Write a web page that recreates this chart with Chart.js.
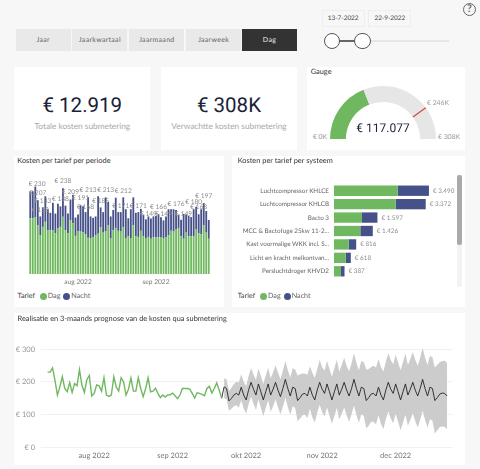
<!DOCTYPE html>
<html>
<head>
<meta charset="utf-8">
<script src="https://cdn.jsdelivr.net/npm/chart.js@4"></script>
<style>
    html, body { margin: 0; padding: 0; background: #f7f7f7; }
    #page { position: relative; width: 480px; height: 469px; overflow: hidden; font-family: Lato, sans-serif; text-rendering: geometricPrecision; }
    #page > * { position: absolute; }
    .card { background: #fff; }
    .btn { top: 28.5px; height: 22px; line-height: 22px; text-align: center; font-size: 7px; letter-spacing: 0.3px; color: #666; background: #e9e9e9; }
    .title { font-size: 7.4px; line-height: 10px; color: #333; white-space: nowrap; }
    .big { width: 136px; text-align: center; top: 92px; font-family: Roboto, sans-serif; font-size: 20.5px; line-height: 28px; color: #1a2238; }
    .sub { width: 136px; text-align: center; top: 121px; font-size: 8.3px; line-height: 10px; color: #a8a8a8; white-space: nowrap; }
    .date { top: 10px; height: 15px; line-height: 16px; width: 41px; text-align: center; font-size: 6.4px; color: #444; border: 0.5px solid #eee; }
    .small { font-size: 6.8px; line-height: 8px; color: #999; white-space: nowrap; transform: translateX(-50%); }
    .legend { font-size: 7.2px; line-height: 10px; color: #666; top: 291px; white-space: nowrap; }
    .dot { width: 7px; height: 7px; border-radius: 50%; top: 292.5px; }
    canvas { position: absolute; }
</style>
</head>
<body>
<div id="page">
    <div class="btn" style="left:15.7px;width:55px">Jaar</div>
    <div class="btn" style="left:72.3px;width:55px">Jaarkwartaal</div>
    <div class="btn" style="left:129.3px;width:55px">Jaarmaand</div>
    <div class="btn" style="left:186px;width:55px">Jaarweek</div>
    <div class="btn" style="left:242px;width:55px;background:#333;color:#eee">Dag</div>

    <div class="date" style="left:321.7px">13-7-2022</div>
    <div class="date" style="left:368.3px">22-9-2022</div>
    <div style="left:332px;top:40px;width:117px;height:1.5px;background:#e6e6e6"></div>
    <div style="left:332px;top:39.8px;width:30px;height:1.8px;background:#666"></div>
    <div style="left:323.5px;top:32.5px;width:14.5px;height:14.5px;border:1.2px solid #555;border-radius:50%;background:#fff"></div>
    <div style="left:354px;top:32.5px;width:14.5px;height:14.5px;border:1.2px solid #555;border-radius:50%;background:#fff"></div>
    <div style="left:463px;top:3px;width:11px;height:11px;border:1.8px solid #666;border-radius:50%;text-align:center;font-size:10.5px;line-height:11px;font-weight:700;color:#666">?</div>

    <div class="card" style="left:14.3px;top:66.7px;width:136px;height:83.3px"></div>
    <div class="big" style="left:14.3px">€ 12.919</div>
    <div class="sub" style="left:14.3px">Totale kosten submetering</div>

    <div class="card" style="left:161px;top:66.7px;width:136px;height:83.3px"></div>
    <div class="big" style="left:161px">€ 308K</div>
    <div class="sub" style="left:161px">Verwachtte kosten submetering</div>

    <div class="card" style="left:307.3px;top:66.7px;width:157.7px;height:83.3px"></div>
    <div class="title" style="left:310.7px;top:67px">Gauge</div>
    <canvas id="gaugeChart" width="106" height="53" style="left:329.7px;top:85.5px"></canvas>
    <div class="small" style="left:320px;top:132.5px">€ 0K</div>
    <div class="small" style="left:449px;top:132.5px">€ 308K</div>
    <div class="small" style="left:438px;top:99px">€ 246K</div>
    <div class="small" style="left:383px;top:119px;font-size:12px;line-height:18px;color:#1a2238;font-family:Roboto,sans-serif">€ 117.077</div>

    <div class="card" style="left:14px;top:156px;width:210px;height:151px"></div>
    <div class="title" style="left:17.3px;top:156px">Kosten per tarief per periode</div>
    <canvas id="periodeChart" width="200" height="120" style="left:28.5px;top:170px"></canvas>
    <div class="legend" style="left:17.5px;color:#444">Tarief</div>
    <div class="dot" style="left:39.5px;background:#70b85f"></div>
    <div class="legend" style="left:47.7px">Dag</div>
    <div class="dot" style="left:63.2px;background:#465089"></div>
    <div class="legend" style="left:71.3px">Nacht</div>

    <div class="card" style="left:232px;top:156px;width:233px;height:151px"></div>
    <div class="title" style="left:237.7px;top:156px">Kosten per tarief per systeem</div>
    <canvas id="systeemChart" width="225" height="94" style="left:232px;top:184px"></canvas>
    <div style="left:457.3px;top:175px;width:4.4px;height:112px;background:#f3f3f3;border-radius:2px"></div>
    <div style="left:457.3px;top:175px;width:4.4px;height:70px;background:#aaa;border-radius:2px"></div>
    <div class="legend" style="left:237.7px;color:#444">Tarief</div>
    <div class="dot" style="left:260.2px;background:#70b85f"></div>
    <div class="legend" style="left:268px">Dag</div>
    <div class="dot" style="left:283.5px;background:#465089"></div>
    <div class="legend" style="left:291.7px">Nacht</div>

    <div class="card" style="left:14px;top:313px;width:451px;height:152px"></div>
    <div class="title" style="left:17.5px;top:314px">Realisatie en 3-maands prognose van de kosten qua submetering</div>
    <canvas id="prognoseChart" width="450" height="130" style="left:10px;top:335px"></canvas>
</div>

<script>
// Kosten per dag, 13-7-2022 t/m 22-9-2022
const dag = [155, 155, 157, 136, 108, 131, 145, 122, 122, 122, 113, 127, 131, 159, 122, 113, 150, 141, 106, 118, 118, 116, 110, 101,
    100, 102, 108, 112, 130, 115, 118, 135, 100, 122, 128, 120, 118, 130, 100, 105, 100, 135, 105, 103, 120, 105, 100, 103,
    98, 102, 102, 102, 103, 100, 102, 108, 120, 118, 125, 128, 105, 98, 115, 105, 105, 105, 125, 113, 110, 135, 115, 98];
const nacht = [75, 75, 86, 69, 52, 54, 71, 58, 48, 76, 55, 68, 57, 79, 68, 55, 57, 79, 51, 47, 73, 72, 62, 112,
    60, 54, 52, 104, 55, 57, 95, 65, 60, 56, 84, 52, 54, 83, 80, 50, 80, 78, 65, 69, 61, 60, 52, 57,
    56, 58, 59, 64, 55, 49, 58, 72, 60, 62, 53, 37, 46, 69, 50, 57, 53, 75, 62, 53, 70, 62, 60, 52];
const realisatie = [230, 230, 243, 205, 160, 185, 216, 180, 170, 198, 168, 195, 188, 238, 190, 168, 207, 220, 157, 165, 191, 188, 172, 213,
    160, 156, 160, 216, 185, 172, 213, 200, 160, 178, 212, 172, 172, 213, 180, 155, 180, 213, 170, 172, 181, 165, 152, 160,
    154, 160, 161, 166, 158, 149, 160, 180, 180, 180, 178, 165, 151, 167, 165, 162, 158, 180, 187, 166, 180, 197, 175, 150];

// Welke staven een label tonen (de rest valt weg door overlap)
const labelDagen = [0, 3, 4, 5, 12, 13, 16, 20, 22, 23, 28, 30, 36, 37, 43, 47, 51, 53, 58, 61, 65, 67, 69];
const labelWaarden = [230, 207, 158, 183, 188, 238, 209, 191, 168, 213, 185, 213, 171, 212, 171, 149, 166, 149, 176, 149, 180, 168, 197];

// Prognose 23-9-2022 t/m 22-12-2022
const prognose = [185, 180, 142, 150, 160, 165, 160, 184, 160, 145, 175, 199, 178, 160, 194, 170, 145, 170, 194, 160, 178, 199, 175, 155,
    180, 208, 180, 157, 184, 180, 143, 152, 163, 165, 157, 184, 160, 145, 175, 199, 178, 165, 194, 170, 145, 170, 194, 160,
    178, 199, 175, 157, 180, 208, 180, 157, 184, 180, 143, 152, 163, 165, 157, 184, 160, 145, 175, 199, 178, 165, 194, 170,
    145, 170, 194, 160, 178, 199, 175, 157, 180, 208, 180, 157, 184, 180, 143, 152, 163, 166, 165, 157];
const bovengrens = [211, 208, 172, 182, 194, 201, 198, 224, 201, 187, 218, 243, 223, 206, 241, 218, 194, 220, 244, 211, 230, 251, 228, 209,
    235, 264, 237, 214, 242, 238, 220, 224, 226, 226, 222, 247, 228, 212, 240, 268, 245, 235, 264, 240, 216, 243, 268, 232,
    252, 274, 250, 233, 257, 288, 258, 236, 264, 260, 238, 240, 246, 250, 244, 270, 246, 232, 262, 288, 267, 254, 283, 260,
    236, 261, 287, 252, 270, 292, 268, 250, 274, 304, 274, 252, 280, 276, 244, 253, 260, 264, 265, 258];
const ondergrens = [150, 148, 112, 118, 126, 129, 122, 144, 119, 103, 132, 155, 133, 114, 147, 122, 96, 120, 144, 109, 126, 147, 122, 101,
    125, 152, 123, 100, 126, 120, 80, 88, 98, 100, 90, 118, 92, 76, 106, 130, 108, 94, 122, 97, 72, 96, 120, 86,
    102, 122, 97, 78, 101, 128, 99, 75, 101, 96, 58, 66, 78, 78, 70, 98, 72, 56, 86, 110, 88, 74, 103, 78,
    52, 76, 100, 66, 84, 104, 80, 61, 84, 112, 84, 60, 86, 82, 42, 52, 62, 64, 62, 55];

// Maand-labels op de x-as (index = dag vanaf 13 juli)
const periodeTickDagen = [19, 50];
const periodeTickLabels = ["aug 2022", "sep 2022"];
const prognoseTickDagen = [19, 51, 81, 112, 142];
const prognoseTickLabels = ["aug 2022", "sep 2022", "okt 2022", "nov 2022", "dec 2022"];
const prognoseYTicks = [0, 100, 200, 300];

// Kosten per systeem
const systemen = ["Luchtcompressor KHLCE", "Luchtcompressor KHLCB", "Bacto 3", "MCC & Bactofuge 25kw 11-2...",
    "Kast voormalige WKK incl. S...", "Licht en kracht melkontvan...", "Persluchtdroger KHVD2"];
const systeemDag = [2340, 2267, 1029, 968, 539, 429, 257];
const systeemNacht = [1150, 1105, 568, 458, 277, 189, 130];
const systeemTotaal = [3490, 3372, 1597, 1426, 816, 618, 387];

// Gauge
const gaugeWaarde = 117077;
const gaugeRest = 190923;
const gaugeDoel = 246000;
const gaugeMax = 308000;

const GREEN = "#70b85f";
const BLUE = "#465089";
const FONT = "Lato, sans-serif";

Chart.defaults.animation = false;
Chart.defaults.responsive = false;
Chart.defaults.font.family = FONT;
Chart.defaults.plugins.legend.display = false;
Chart.defaults.plugins.tooltip.enabled = false;

// Zelfde tekstweergave in de canvassen als in de html
Chart.register({
    id: "preciseText",
    beforeInit(chart) { chart.ctx.textRendering = "geometricPrecision"; },
    beforeDraw(chart) { chart.ctx.textRendering = "geometricPrecision"; }
});

function euro(v) {
    return "€ " + String(v).replace(/\B(?=(\d{3})+$)/g, ".");
}

// Tick-labels mogen de plotruimte niet verkleinen
function noPadding(axis) {
    axis.paddingTop = 0;
    axis.paddingBottom = 0;
    axis.paddingLeft = 0;
    axis.paddingRight = 0;
}

function graphPeriode() {
    const ctx = document.getElementById("periodeChart").getContext("2d");
    new Chart(ctx, {
        type: "bar",
        data: {
            labels: dag.map((_, i) => i),
            datasets: [
                { label: "Dag", data: dag, backgroundColor: GREEN, barPercentage: 0.72, categoryPercentage: 1 },
                { label: "Nacht", data: nacht, backgroundColor: BLUE, barPercentage: 0.72, categoryPercentage: 1 }
            ]
        },
        options: {
            layout: { padding: { right: 19 } },
            scales: {
                x: {
                    stacked: true,
                    grid: { display: false, drawTicks: false },
                    border: { display: false },
                    afterFit: axis => { noPadding(axis); axis.height = 16; },
                    ticks: {
                        autoSkip: false,
                        maxRotation: 0,
                        padding: 4,
                        color: "#777",
                        font: { size: 6.6 },
                        callback: value => {
                            const pos = periodeTickDagen.indexOf(value);
                            return pos >= 0 ? periodeTickLabels[pos] : "";
                        }
                    }
                },
                y: { stacked: true, display: false, min: 0, max: 289 }
            }
        },
        plugins: [{
            id: "barLabels",
            afterDatasetsDraw(chart) {
                const c = chart.ctx;
                c.save();
                c.font = "6.6px " + FONT;
                c.fillStyle = "#8c8c8c";
                c.textAlign = "center";
                c.textBaseline = "middle";
                labelDagen.forEach((d, i) => {
                    const x = Math.max(chart.scales.x.getPixelForValue(d), chart.chartArea.left + 8);
                    c.fillText(euro(labelWaarden[i]), x, chart.scales.y.getPixelForValue(labelWaarden[i]) - 7);
                });
                c.restore();
            }
        }]
    });
}

function graphSysteem() {
    const ctx = document.getElementById("systeemChart").getContext("2d");
    new Chart(ctx, {
        type: "bar",
        data: {
            labels: systemen,
            datasets: [
                { label: "Dag", data: systeemDag, backgroundColor: GREEN, barPercentage: 0.77, categoryPercentage: 1 },
                { label: "Nacht", data: systeemNacht, backgroundColor: BLUE, barPercentage: 0.77, categoryPercentage: 1 }
            ]
        },
        options: {
            indexAxis: "y",
            scales: {
                x: { stacked: true, display: false, min: 0, max: 4522 },
                y: {
                    stacked: true,
                    grid: { display: false, drawTicks: false },
                    border: { display: false },
                    afterFit: axis => { noPadding(axis); axis.width = 102; },
                    ticks: { padding: 5, color: "#666", font: { size: 6.3 }, autoSkip: false }
                }
            }
        },
        plugins: [{
            id: "totalLabels",
            afterDatasetsDraw(chart) {
                const c = chart.ctx;
                c.save();
                c.font = "6.3px " + FONT;
                c.fillStyle = "#8c8c8c";
                c.textBaseline = "middle";
                systeemTotaal.forEach((v, i) => {
                    c.fillText(euro(v), chart.scales.x.getPixelForValue(v) + 4, chart.scales.y.getPixelForValue(i));
                });
                c.restore();
            }
        }]
    });
}

function graphGauge() {
    const ctx = document.getElementById("gaugeChart").getContext("2d");
    new Chart(ctx, {
        type: "doughnut",
        data: {
            datasets: [{ data: [gaugeWaarde, gaugeRest], backgroundColor: [GREEN, "#e6e6e6"], borderWidth: 0 }]
        },
        options: { rotation: -90, circumference: 180, cutout: "70%" },
        plugins: [{
            id: "target",
            afterDatasetsDraw(chart) {
                const arc = chart.getDatasetMeta(0).data[0];
                const angle = Math.PI + Math.PI * gaugeDoel / gaugeMax;
                const c = chart.ctx;
                c.save();
                c.strokeStyle = "#d64545";
                c.lineWidth = 1.2;
                c.beginPath();
                c.moveTo(arc.x + Math.cos(angle) * arc.innerRadius, arc.y + Math.sin(angle) * arc.innerRadius);
                c.lineTo(arc.x + Math.cos(angle) * arc.outerRadius, arc.y + Math.sin(angle) * arc.outerRadius);
                c.stroke();
                c.restore();
            }
        }]
    });
}

function graphPrognose() {
    const start = realisatie.length;
    const ctx = document.getElementById("prognoseChart").getContext("2d");
    new Chart(ctx, {
        type: "line",
        data: {
            datasets: [
                {
                    label: "Bovengrens",
                    data: bovengrens.map((v, i) => ({ x: start + i, y: v })),
                    order: 3,
                    borderWidth: 0,
                    pointRadius: 0,
                    fill: "+1",
                    backgroundColor: "#cccccc"
                },
                {
                    label: "Ondergrens",
                    data: ondergrens.map((v, i) => ({ x: start + i, y: v })),
                    order: 3,
                    borderWidth: 0,
                    pointRadius: 0,
                    fill: false
                },
                {
                    label: "Realisatie",
                    data: realisatie.map((v, i) => ({ x: i, y: v })),
                    order: 1,
                    borderColor: GREEN,
                    borderWidth: 1.4,
                    pointRadius: 0,
                    fill: false
                },
                {
                    label: "Prognose",
                    data: [{ x: start - 1, y: realisatie[start - 1] }].concat(prognose.map((v, i) => ({ x: start + i, y: v }))),
                    order: 1,
                    borderColor: "#222",
                    borderWidth: 0.9,
                    pointRadius: 0,
                    fill: false
                }
            ]
        },
        options: {
            layout: { padding: { top: 4.5, right: 7 } },
            scales: {
                x: {
                    type: "linear",
                    min: -2.7,
                    max: 165.4,
                    grid: { display: false, drawTicks: false },
                    border: { display: false },
                    afterBuildTicks: axis => { axis.ticks = prognoseTickDagen.map(v => ({ value: v })); },
                    afterFit: axis => { noPadding(axis); axis.height = 17.7; },
                    ticks: {
                        autoSkip: false,
                        maxRotation: 0,
                        padding: 4,
                        color: "#777",
                        font: { size: 7.5 },
                        callback: value => prognoseTickLabels[prognoseTickDagen.indexOf(value)]
                    }
                },
                y: {
                    min: 0,
                    max: 330,
                    grid: { color: "#eeeeee", drawTicks: false, lineWidth: 0.8 },
                    border: { display: false },
                    afterBuildTicks: axis => { axis.ticks = prognoseYTicks.map(v => ({ value: v })); },
                    afterFit: axis => { noPadding(axis); axis.width = 31; },
                    ticks: { padding: 6, color: "#999", font: { size: 7.5 }, callback: value => "€ " + value }
                }
            }
        }
    });
}

graphPeriode();
graphSysteem();
graphGauge();
graphPrognose();
</script>
</body>
</html>
